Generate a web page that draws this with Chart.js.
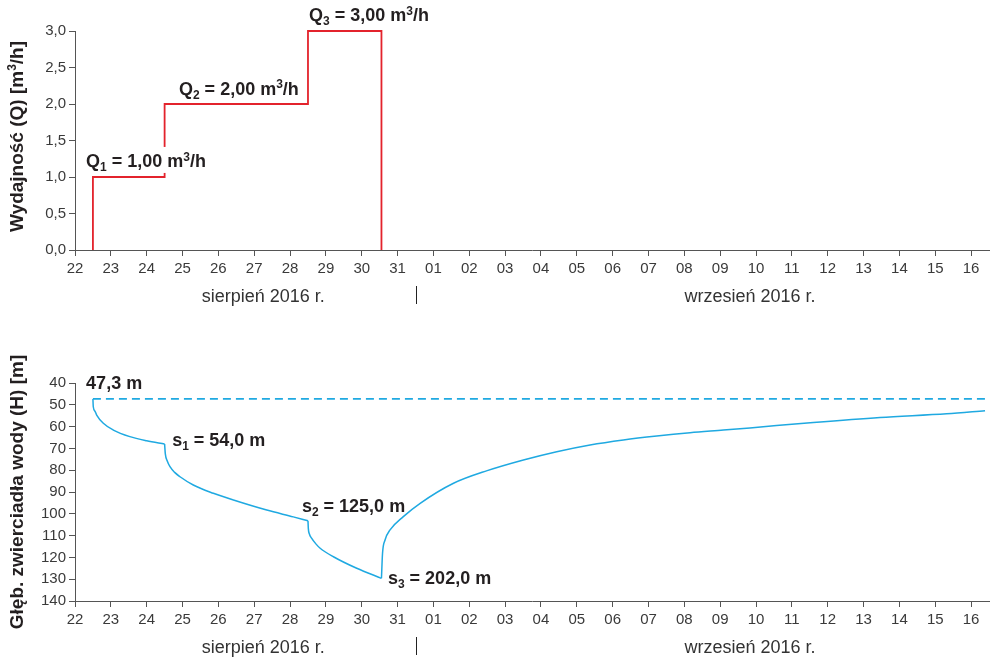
<!DOCTYPE html>
<html>
<head>
<meta charset="utf-8">
<script src="https://cdn.jsdelivr.net/npm/chart.js@4"></script>
<style>
  body { margin: 0; background: #fff; }
  #wrap { position: relative; width: 996px; height: 662px; }
  canvas { position: absolute; left: 0; }
</style>
</head>
<body>
<div id="wrap">
  <canvas id="qChart" width="996" height="330" style="top:0"></canvas>
  <canvas id="hChart" width="996" height="332" style="top:330px"></canvas>
</div>
<script>
// day index 0 = 22 Aug 2016
const dayLabels = ['22','23','24','25','26','27','28','29','30','31',
  '01','02','03','04','05','06','07','08','09','10','11','12','13','14','15','16'];

// pumping rate steps (Q, m3/h)
const qX = [0.5, 0.5, 2.5, 6.5, 8.55];
const qY = [0, 1, 2, 3, 0];

// static water level
const staticLevel = 47.3;
const levelX = [0.5, 25.5];

// water depth H [m] - stage 1, 2, 3 and recovery
const h1X = [0.5, 0.51, 0.56, 0.605, 0.79, 1.07, 1.53, 2.0, 2.5];
const h1Y = [47.3, 50.9, 53.0, 54.7, 58.5, 61.6, 64.6, 66.5, 68.0];
const h2X = [2.5, 2.52, 2.58, 2.65, 2.78, 2.93, 3.3, 3.86, 4.42, 5.35, 6.09, 6.5];
const h2Y = [68.0, 72.5, 76.0, 78.4, 81.0, 83.0, 86.8, 90.6, 93.7, 98.3, 101.4, 103.2];
const h3X = [6.5, 6.51, 6.54, 6.6, 6.72, 6.84, 7.21, 7.86, 8.55];
const h3Y = [103.2, 106.8, 109.3, 111.2, 113.8, 115.8, 119.7, 125.0, 129.6];
const recX = [8.55, 8.58, 8.65, 8.79, 9.16, 9.63, 10.56, 11.5, 12.51, 13.44, 14.37, 15.3,
  16.23, 17.16, 18.09, 18.83, 20.6, 22.46, 24.32, 25.39];
const recY = [129.6, 118.1, 112.0, 107.4, 101.3, 95.2, 86.0, 80.2, 75.3, 71.5, 68.4, 66.1,
  64.3, 62.8, 61.6, 60.6, 58.1, 55.8, 54.1, 52.7];

const FONT = "'Liberation Sans', Arial, sans-serif";
const RED = '#e3232c';
const BLUE = '#1fa9e1';

function pts(xs, ys) { return xs.map((x, i) => ({ x: x, y: ys[i] })); }

// draw text with sub/superscripts: parts = [[text, 'sub'|'sup'|undefined], ...]
function drawRich(ctx, parts, x, cy, size, bold, measureOnly) {
  const w = bold ? 'bold ' : '';
  const base = cy + size * 0.36;
  let cx = x;
  ctx.textAlign = 'left';
  ctx.textBaseline = 'alphabetic';
  parts.forEach(p => {
    const small = p[1] === 'sub' || p[1] === 'sup';
    const fs = small ? Math.round(size * 0.65) : size;
    ctx.font = w + fs + 'px ' + FONT;
    let off = 0;
    if (p[1] === 'sub') off = size * 0.22;
    if (p[1] === 'sup') off = -size * 0.38;
    if (!measureOnly) ctx.fillText(p[0], cx, base + off);
    cx += ctx.measureText(p[0]).width;
  });
  return cx - x;
}

const notesPlugin = {
  id: 'notes',
  afterDraw(chart, args, opts) {
    const ctx = chart.ctx;
    const xs = chart.scales.x, ys = chart.scales.y;
    const area = chart.chartArea;
    ctx.save();
    (opts.labels || []).forEach(l => {
      const px = xs.getPixelForValue(l.x);
      const py = ys.getPixelForValue(l.y);
      if (l.bg) {
        const w = drawRich(ctx, l.parts, px, py, 18, true, true);
        ctx.fillStyle = '#fff';
        ctx.fillRect(px - 3, py - 14, w + 6, 26);
      }
      ctx.fillStyle = '#231f20';
      drawRich(ctx, l.parts, px, py, 18, true);
    });
    // month names
    ctx.font = '18px ' + FONT;
    ctx.fillStyle = '#333';
    ctx.textAlign = 'center';
    ctx.textBaseline = 'middle';
    (opts.months || []).forEach(m => {
      ctx.fillText(m.text, xs.getPixelForValue(m.x), area.bottom + 47);
    });
    // month separator
    const sx = Math.round(xs.getPixelForValue(opts.sep)) + 0.5;
    ctx.strokeStyle = '#222';
    ctx.lineWidth = 1;
    ctx.beginPath();
    ctx.moveTo(sx, area.bottom + 36);
    ctx.lineTo(sx, area.bottom + 54);
    ctx.stroke();
    // y axis title
    ctx.save();
    ctx.translate(16, (area.top + area.bottom) / 2 + (opts.titleShift || 0));
    ctx.rotate(-Math.PI / 2);
    ctx.fillStyle = '#231f20';
    const tw = drawRich(ctx, opts.title, 0, 0, 19, true, true);
    drawRich(ctx, opts.title, -tw / 2, 0, 19, true);
    ctx.restore();
    ctx.restore();
  }
};

function xScale(height) {
  return {
    type: 'linear', min: 0, max: 25.5,
    grid: { drawOnChartArea: false, tickLength: 6, color: '#555' },
    border: { color: '#555', width: 1 },
    ticks: {
      stepSize: 1, includeBounds: false, autoSkip: false, maxRotation: 0,
      color: '#3a3a3a', padding: 4, font: { family: FONT, size: 15 },
      callback: v => dayLabels[v]
    },
    afterFit: s => { s.height = height; }
  };
}

function yScale(extra) {
  return Object.assign({
    type: 'linear',
    grid: { drawOnChartArea: false, tickLength: 6, color: '#555' },
    border: { color: '#555', width: 1 },
    afterFit: s => { s.width = 75; }
  }, extra);
}

const months = [
  { text: 'sierpień 2016 r.', x: 5.25 },
  { text: 'wrzesień 2016 r.', x: 18.83 }
];

new Chart('qChart', {
  type: 'line',
  data: {
    datasets: [{
      data: pts(qX, qY),
      stepped: 'before',
      borderColor: RED, borderWidth: 1.8,
      pointRadius: 0, clip: false
    }]
  },
  options: {
    responsive: false, animation: false,
    layout: { padding: { top: 31, right: 7, left: 0, bottom: 0 } },
    scales: {
      x: xScale(80),
      y: yScale({
        min: 0, max: 3,
        ticks: {
          stepSize: 0.5, color: '#3a3a3a', padding: 3, font: { family: FONT, size: 15 },
          callback: v => v.toFixed(1).replace('.', ',')
        }
      })
    },
    plugins: {
      legend: { display: false },
      tooltip: { enabled: false },
      notes: {
        labels: [
          { x: 0.31, y: 1.22, bg: true, parts: [['Q'], ['1', 'sub'], [' = 1,00 m'], ['3', 'sup'], ['/h']] },
          { x: 2.90, y: 2.215, parts: [['Q'], ['2', 'sub'], [' = 2,00 m'], ['3', 'sup'], ['/h']] },
          { x: 6.53, y: 3.22, parts: [['Q'], ['3', 'sub'], [' = 3,00 m'], ['3', 'sup'], ['/h']] }
        ],
        months: months, sep: 9.5, titleShift: -4,
        title: [['Wydajność (Q) [m'], ['3', 'sup'], ['/h]']]
      }
    }
  },
  plugins: [notesPlugin]
});

new Chart('hChart', {
  type: 'line',
  data: {
    datasets: [
      { data: pts(levelX, levelX.map(() => staticLevel)), borderColor: BLUE, borderWidth: 1.6, borderDash: [8, 5], pointRadius: 0 },
      { data: pts(h1X, h1Y), borderColor: BLUE, borderWidth: 1.5, pointRadius: 0, cubicInterpolationMode: 'monotone' },
      { data: pts(h2X, h2Y), borderColor: BLUE, borderWidth: 1.5, pointRadius: 0, cubicInterpolationMode: 'monotone' },
      { data: pts(h3X, h3Y), borderColor: BLUE, borderWidth: 1.5, pointRadius: 0, cubicInterpolationMode: 'monotone' },
      { data: pts(recX, recY), borderColor: BLUE, borderWidth: 1.5, pointRadius: 0, cubicInterpolationMode: 'monotone' }
    ]
  },
  options: {
    responsive: false, animation: false,
    layout: { padding: { top: 53, right: 7, left: 0, bottom: 0 } },
    scales: {
      x: xScale(61),
      y: yScale({
        min: 40, max: 140, reverse: true,
        ticks: {
          stepSize: 10, color: '#3a3a3a', padding: 3, font: { family: FONT, size: 15 }
        }
      })
    },
    plugins: {
      legend: { display: false },
      tooltip: { enabled: false },
      notes: {
        labels: [
          { x: 0.31, y: 40.0, parts: [['47,3 m']] },
          { x: 2.71, y: 66.1, parts: [['s'], ['1', 'sub'], [' = 54,0 m']] },
          { x: 6.33, y: 96.4, parts: [['s'], ['2', 'sub'], [' = 125,0 m']] },
          { x: 8.73, y: 129.1, parts: [['s'], ['3', 'sub'], [' = 202,0 m']] }
        ],
        months: months, sep: 9.5,
        title: [['Głęb. zwierciadła wody (H) [m]']]
      }
    }
  },
  plugins: [notesPlugin]
});
</script>
</body>
</html>
